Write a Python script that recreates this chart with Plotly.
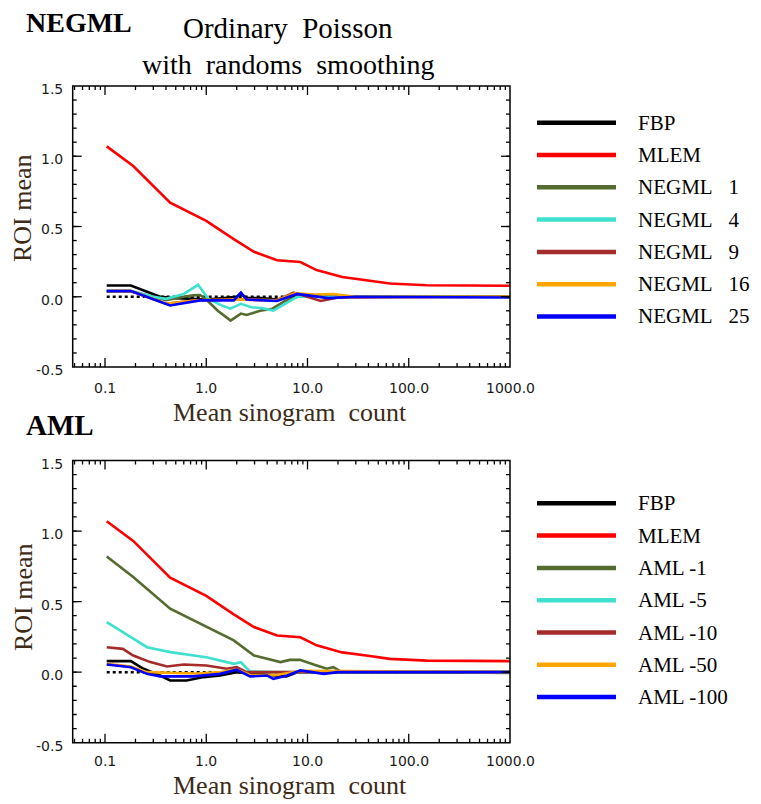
import math
import plotly.graph_objects as go

W, H = 761, 804
OFF = 8  # the page body margin shifts the figure by this much

# ---- data: NEGML panel (top) ----
mlem_x = [0.104, 0.19, 0.44, 1.0, 1.87, 2.96, 5.0, 8.5, 12.3, 22, 38, 65, 150, 1000]
mlem_y = [1.07, 0.93, 0.67, 0.54, 0.41, 0.32, 0.26, 0.247, 0.19, 0.14, 0.118, 0.094, 0.082, 0.078]

ref_x = [0.104, 1000]
ref_y = [0.0, 0.0]

top_fbp_x = [0.104, 0.18, 0.26, 0.35, 0.5, 0.8, 1.0, 1.5, 2.0, 2.2, 2.5, 3.5, 5.0, 8.0, 20, 1000]
top_fbp_y = [0.08, 0.08, 0.035, 0.0, -0.01, -0.02, -0.02, -0.01, 0.0, 0.02, -0.01, -0.01, -0.02, 0.01, 0.0, 0.0]

negml1_x = [0.104, 0.18, 0.3, 0.4, 0.6, 0.74, 0.87, 1.0, 1.3, 1.74, 2.2, 2.5, 3.4, 4.5, 6.0, 8.0, 1000]
negml1_y = [0.04, 0.04, 0.0, -0.025, 0.0, 0.01, 0.012, -0.02, -0.10, -0.17, -0.12, -0.13, -0.10, -0.085, -0.03, 0.0, 0.0]

negml4_x = [0.104, 0.18, 0.3, 0.4, 0.6, 0.83, 1.05, 1.4, 1.73, 2.2, 2.8, 3.5, 4.6, 6.0, 7.9, 1000]
negml4_y = [0.04, 0.04, 0.0, -0.015, 0.02, 0.085, -0.015, -0.06, -0.085, -0.05, -0.075, -0.08, -0.098, -0.05, 0.0, 0.0]

negml9_x = [0.104, 0.18, 0.4, 0.8, 2.0, 5.0, 7.3, 10, 13.5, 20, 1000]
negml9_y = [0.04, 0.04, -0.05, -0.025, -0.02, -0.025, 0.03, 0.0, -0.03, -0.005, 0.0]

negml16_x = [0.104, 0.18, 0.4, 0.8, 2.0, 5.0, 7.5, 12, 18, 25, 30, 1000]
negml16_y = [0.04, 0.04, -0.05, -0.025, -0.02, -0.025, 0.025, 0.015, 0.02, 0.01, 0.0, 0.0]

negml25_x = [0.104, 0.18, 0.44, 0.87, 1.87, 2.2, 2.5, 5.0, 7.9, 12, 16, 30, 1000]
negml25_y = [0.04, 0.04, -0.062, -0.026, -0.026, 0.03, -0.02, -0.03, 0.02, 0.0, -0.01, 0.0, -0.005]

# ---- data: AML panel (bottom) ----
bot_fbp_x = [0.104, 0.18, 0.24, 0.35, 0.44, 0.64, 0.94, 1.37, 2.0, 3.0, 5.0, 6.2, 8.0, 1000]
bot_fbp_y = [0.078, 0.078, 0.024, -0.024, -0.059, -0.059, -0.035, -0.024, 0.0, -0.01, -0.02, -0.03, 0.0, 0.0]

aml1_x = [0.104, 0.19, 0.44, 1.0, 1.87, 2.96, 5.4, 6.7, 8.4, 12.3, 15.5, 18, 21, 1000]
aml1_y = [0.82, 0.674, 0.45, 0.32, 0.225, 0.118, 0.071, 0.087, 0.087, 0.047, 0.024, 0.035, 0.007, -0.005]

aml5_x = [0.104, 0.19, 0.26, 0.44, 1.0, 1.59, 1.87, 2.2, 2.7, 4.6, 1000]
aml5_y = [0.355, 0.236, 0.177, 0.142, 0.106, 0.071, 0.059, 0.07, 0.005, 0.0, 0.0]

aml10_x = [0.104, 0.15, 0.19, 0.28, 0.41, 0.6, 1.0, 1.6, 2.0, 2.5, 1000]
aml10_y = [0.177, 0.165, 0.118, 0.071, 0.04, 0.054, 0.047, 0.024, 0.035, 0.0, 0.0]

aml50_x = [0.104, 0.18, 0.26, 0.4, 0.8, 1.4, 2.0, 2.7, 5.0, 8.5, 1000]
aml50_y = [0.06, 0.04, 0.0, -0.005, -0.01, 0.0, 0.02, -0.02, -0.02, 0.01, 0.0]

aml100_x = [0.104, 0.18, 0.26, 0.35, 0.75, 1.37, 2.0, 2.7, 4.0, 4.6, 6.3, 8.5, 14.5, 20, 1000]
aml100_y = [0.054, 0.035, -0.012, -0.03, -0.03, -0.012, 0.017, -0.03, -0.024, -0.047, -0.024, 0.012, -0.012, 0.0, 0.0]

colors = ["black", "#ff0000", "#556b2f", "#40e0d0", "#a52a2a", "#ffa500", "#0000ff"]
sp = "\u00a0" * 3
top_names = ["FBP", "MLEM", "NEGML" + sp + "1", "NEGML" + sp + "4", "NEGML" + sp + "9",
             "NEGML" + sp + "16", "NEGML" + sp + "25"]
bot_names = ["FBP", "MLEM", "AML -1", "AML -5", "AML -10", "AML -50", "AML -100"]

x_tickvals = [0.1, 1, 10, 100, 1000]
x_ticktext = ["0.1", "1.0", "10.0", "100.0", "1000.0"]
y_tickvals = [-0.5, 0.0, 0.5, 1.0, 1.5]
y_ticktext = ["-0.5", "0.0", "0.5", "1.0", "1.5"]
x_minor = [m * 10 ** e for e in (-2, -1, 0, 1, 2) for m in range(2, 10)]
y_minor = [i / 10 for i in range(-5, 16)]

top_series = [(top_fbp_x, top_fbp_y), (mlem_x, mlem_y), (negml1_x, negml1_y), (negml4_x, negml4_y),
              (negml9_x, negml9_y), (negml16_x, negml16_y), (negml25_x, negml25_y)]
bot_series = [(bot_fbp_x, bot_fbp_y), (mlem_x, mlem_y), (aml1_x, aml1_y), (aml5_x, aml5_y),
              (aml10_x, aml10_y), (aml50_x, aml50_y), (aml100_x, aml100_y)]

fig = go.Figure()

for sfx, series in (("", top_series), ("2", bot_series)):
    fig.add_trace(go.Scatter(x=ref_x, y=ref_y, mode="lines", showlegend=False,
                             line=dict(color="black", width=2.5, dash="dot"),
                             xaxis="x" + sfx, yaxis="y" + sfx))
    for (sx, sy), col in zip(series, colors):
        fig.add_trace(go.Scatter(x=sx, y=sy, mode="lines", showlegend=False,
                                 line=dict(color=col, width=2.6),
                                 xaxis="x" + sfx, yaxis="y" + sfx))


def px_x(p):
    return (p - OFF) / W


def px_y(p):
    return 1 - (p - OFF) / H


serif = "Liberation Serif"
tick_font = dict(family="DejaVu Sans", size=14, color="#1a1a1a")
XRANGE = [-1.319, 3]
YRANGE = [-0.5, 1.5]

PLOT_L, PLOT_R = 72.7, 510
panels = [("x", "y", 86, 367), ("x2", "y2", 460.5, 742.7)]

axis_off = dict(showline=False, ticks="", showticklabels=False, showgrid=False, zeroline=False)
xdom = [px_x(PLOT_L), px_x(PLOT_R)]
fig.update_layout(
    width=W, height=H,
    margin=dict(l=0, r=0, t=0, b=0, autoexpand=False),
    paper_bgcolor="white", plot_bgcolor="white",
    showlegend=False,
    xaxis=dict(domain=xdom, anchor="y", type="log", range=XRANGE, **axis_off),
    yaxis=dict(domain=[px_y(367), px_y(86)], anchor="x", range=YRANGE, **axis_off),
    xaxis2=dict(domain=xdom, anchor="y2", type="log", range=XRANGE, **axis_off),
    yaxis2=dict(domain=[px_y(742.7), px_y(460.5)], anchor="x2", range=YRANGE, **axis_off),
)

# frame and tick marks (inside, on all four sides)
shapes = []
tick_line = dict(color="black", width=1.3)
for xa, ya, top, bot in panels:
    hpx, wpx = bot - top, PLOT_R - PLOT_L
    shapes.append(dict(type="rect", xref=xa + " domain", yref=ya + " domain", x0=0, x1=1, y0=0, y1=1,
                       line=dict(color="black", width=1.5), layer="above"))
    for vals, ln in ((x_tickvals, 9), (x_minor, 4)):
        for v in vals:
            f = (math.log10(v) - XRANGE[0]) / (XRANGE[1] - XRANGE[0])
            if 0 < f < 1:
                for y0, y1 in ((0, ln / hpx), (1 - ln / hpx, 1)):
                    shapes.append(dict(type="line", xref=xa + " domain", yref=ya + " domain",
                                       x0=f, x1=f, y0=y0, y1=y1, line=tick_line, layer="above"))
    for vals, ln in ((y_tickvals, 9), (y_minor, 4)):
        for v in vals:
            if YRANGE[0] < v < YRANGE[1]:
                for x0, x1 in ((0, ln / wpx), (1 - ln / wpx, 1)):
                    shapes.append(dict(type="line", xref=xa + " domain", yref=ya,
                                       x0=x0, x1=x1, y0=v, y1=v, line=tick_line, layer="above"))

title_col = "#3d2b17"
annotations = [
    dict(text="<b>NEGML</b>", x=px_x(24), y=px_y(23), xanchor="left", yanchor="middle",
         font=dict(family=serif, size=28, color="black")),
    dict(text="Ordinary\u00a0\u00a0Poisson", x=px_x(288), y=px_y(28), xanchor="center", yanchor="middle",
         font=dict(family=serif, size=29, color="black")),
    dict(text="with\u00a0\u00a0randoms\u00a0\u00a0smoothing", x=px_x(288), y=px_y(64), xanchor="center",
         yanchor="middle", font=dict(family=serif, size=28, color="black")),
    dict(text="<b>AML</b>", x=px_x(24), y=px_y(425), xanchor="left", yanchor="middle",
         font=dict(family=serif, size=29, color="black")),
]
for yc in (412, 785):
    annotations.append(dict(text="Mean sinogram\u00a0\u00a0count", x=px_x(290), y=px_y(yc),
                            xanchor="center", yanchor="middle",
                            font=dict(family=serif, size=26, color=title_col)))
for yc in (208, 597):
    annotations.append(dict(text="ROI mean", x=px_x(23), y=px_y(yc), textangle=-90,
                            xanchor="center", yanchor="middle",
                            font=dict(family=serif, size=26, color=title_col)))

# tick labels
for (xa, ya, top, bot), xlab_y in zip(panels, (388, 761)):
    for v, t in zip(x_tickvals, x_ticktext):
        annotations.append(dict(text=t, xref=xa, x=math.log10(v), yref="paper", y=px_y(xlab_y),
                                xanchor="center", yanchor="middle", font=tick_font))
    for v, t in zip(y_tickvals, y_ticktext):
        annotations.append(dict(text=t, xref="paper", x=px_x(65), yref=ya, y=v, yshift=-3,
                                xanchor="right", yanchor="middle", font=tick_font))

# legends
for names, y0 in ((top_names, 122.7), (bot_names, 503.3)):
    for i, (name, col) in enumerate(zip(names, colors)):
        yy = px_y(y0 + i * 32.3)
        shapes.append(dict(type="line", xref="paper", yref="paper", x0=px_x(537), x1=px_x(616),
                           y0=yy, y1=yy, line=dict(color=col, width=4.5)))
        annotations.append(dict(text=name, x=px_x(636), y=yy, xanchor="left", yanchor="middle",
                                font=dict(family=serif, size=21, color="black")))

for a in annotations:
    a.setdefault("xref", "paper")
    a.setdefault("yref", "paper")
    a["showarrow"] = False
fig.update_layout(annotations=annotations, shapes=shapes)

fig.write_html("out.html")
